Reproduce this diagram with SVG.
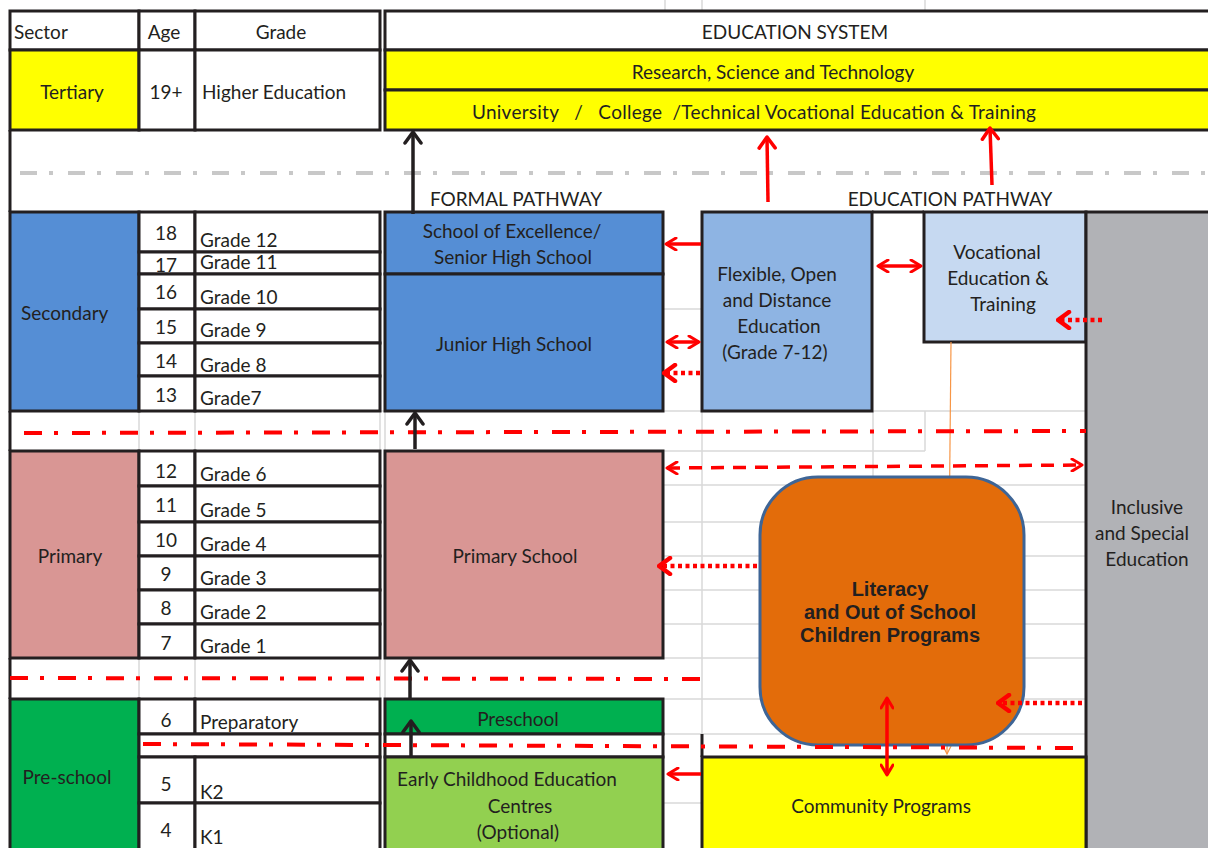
<svg xmlns="http://www.w3.org/2000/svg" width="1208" height="848" viewBox="0 0 1208 848">
<defs>
<style>
.t{font-family:Lato,"Open Sans","Noto Sans",sans-serif;font-size:19px;fill:#231f20}
.m{text-anchor:middle}
.bo{font-family:"Liberation Sans",Arial,sans-serif;font-weight:bold;font-size:20px;fill:#231f20;text-anchor:middle}
.c{stroke:#231f20;stroke-width:3}
.w{fill:#ffffff}
.g{stroke:#d9d9d9;stroke-width:1.5;fill:none}
.rdd{stroke:#ff0000;stroke-width:4;fill:none;stroke-dasharray:18 12 4 14}
.rs{stroke:#ff0000;stroke-width:3.5;fill:none}
.rdash{stroke:#ff0000;stroke-width:3.5;fill:none;stroke-dasharray:13 9}
.rdot{stroke:#ff0000;stroke-width:4.5;fill:none;stroke-dasharray:4 3.5}
.k{stroke:#231f20;stroke-width:3.5;fill:none}
</style>
<marker id="raS" viewBox="0 0 14 14" refX="12" refY="7" markerWidth="14" markerHeight="14" markerUnits="userSpaceOnUse" orient="auto-start-reverse"><path d="M2,1 L12,7 L2,13" fill="none" stroke="#ff0000" stroke-width="3" stroke-linecap="round" stroke-linejoin="round"/></marker>
<marker id="raL" viewBox="0 0 16 20" refX="14" refY="10" markerWidth="16" markerHeight="20" markerUnits="userSpaceOnUse" orient="auto-start-reverse"><path d="M3,2 L14,10 L3,18" fill="none" stroke="#ff0000" stroke-width="3.5" stroke-linecap="round" stroke-linejoin="round"/></marker>
<marker id="raD" viewBox="0 0 16 20" refX="14" refY="10" markerWidth="16" markerHeight="20" markerUnits="userSpaceOnUse" orient="auto-start-reverse"><path d="M3,2 L14,10 L3,18" fill="none" stroke="#ff0000" stroke-width="4.5" stroke-linecap="round" stroke-linejoin="round"/></marker>
<marker id="ka" viewBox="0 0 16 20" refX="14" refY="10" markerWidth="16" markerHeight="20" markerUnits="userSpaceOnUse" orient="auto"><path d="M3,2 L14,10 L3,18" fill="none" stroke="#231f20" stroke-width="3.5" stroke-linecap="round" stroke-linejoin="round"/></marker>
<marker id="oa" viewBox="0 0 10 10" refX="9" refY="5" markerWidth="10" markerHeight="10" markerUnits="userSpaceOnUse" orient="auto"><path d="M1,1 L9,5 L1,9" fill="none" stroke="#f79646" stroke-width="1.2"/></marker>
</defs>
<rect width="1208" height="848" fill="#ffffff"/>

<g id="grid">
<line class="g" x1="665" y1="0" x2="665" y2="11"/>
<line class="g" x1="702" y1="0" x2="702" y2="11"/>
<line class="g" x1="925" y1="0" x2="925" y2="11"/>
<line class="g" x1="139" y1="411" x2="139" y2="451"/>
<line class="g" x1="195" y1="411" x2="195" y2="451"/>
<line class="g" x1="380" y1="411" x2="380" y2="451"/>
<line class="g" x1="385" y1="411" x2="385" y2="451"/>
<line class="g" x1="139" y1="658" x2="139" y2="699"/>
<line class="g" x1="195" y1="658" x2="195" y2="699"/>
<line class="g" x1="380" y1="658" x2="380" y2="699"/>
<line class="g" x1="385" y1="658" x2="385" y2="699"/>
<line class="g" x1="663" y1="309" x2="702" y2="309"/>
<line class="g" x1="663" y1="411" x2="1086" y2="411"/>
<line class="g" x1="10" y1="411" x2="385" y2="411"/>
<line class="g" x1="663" y1="451" x2="925" y2="451"/>
<line class="g" x1="663" y1="485" x2="1086" y2="485"/>
<line class="g" x1="663" y1="522" x2="1086" y2="522"/>
<line class="g" x1="663" y1="556" x2="1086" y2="556"/>
<line class="g" x1="663" y1="590" x2="1086" y2="590"/>
<line class="g" x1="663" y1="624" x2="1086" y2="624"/>
<line class="g" x1="663" y1="658" x2="1086" y2="658"/>
<line class="g" x1="663" y1="699" x2="1086" y2="699"/>
<line class="g" x1="663" y1="734" x2="1086" y2="734"/>
<line class="g" x1="663" y1="803" x2="702" y2="803"/>
<line class="g" x1="702" y1="411" x2="702" y2="757"/>
<line class="g" x1="873" y1="411" x2="873" y2="490"/>
<line class="g" x1="925" y1="411" x2="925" y2="451"/>
</g>

<g id="header">
<rect class="c w" x="10" y="11" width="129" height="39"/>
<rect class="c w" x="139" y="11" width="56" height="39"/>
<rect class="c w" x="195" y="11" width="185" height="39"/>
<rect class="c w" x="385" y="11" width="830" height="39"/>
<text class="t" x="14" y="39">Sector</text>
<text class="t m" x="164" y="39">Age</text>
<text class="t m" x="281" y="39">Grade</text>
<text class="t m" x="795" y="39">EDUCATION SYSTEM</text>
</g>

<g id="tertiary">
<rect class="c" x="10" y="50" width="129" height="80" fill="#ffff00"/>
<rect class="c w" x="139" y="50" width="56" height="80"/>
<rect class="c w" x="195" y="50" width="185" height="80"/>
<text class="t m" x="72" y="99">Tertiary</text>
<text class="t m" x="166" y="99">19+</text>
<text class="t" x="202" y="99">Higher Education</text>
</g>
<g id="research">
<rect class="c" x="385" y="50" width="830" height="40" fill="#ffff00"/>
<text class="t m" x="773" y="79">Research, Science and Technology</text>
</g>
<g id="university">
<rect class="c" x="385" y="90" width="830" height="40" fill="#ffff00"/>
<text class="t" x="472" y="119" textLength="564" style="white-space:pre">University   /   College  /Technical Vocational Education &amp; Training</text>
</g>

<g id="separators">
<line class="c" x1="10" y1="130" x2="10" y2="212"/>
<line class="c" x1="10" y1="411" x2="10" y2="451"/>
<line class="c" x1="10" y1="658" x2="10" y2="699"/>
<line class="c" x1="872" y1="212" x2="924" y2="212"/>
<line x1="20" y1="173" x2="1208" y2="173" stroke="#c8c8c8" stroke-width="4" stroke-dasharray="17 12 4 15"/>
<text class="t m" x="516" y="206">FORMAL PATHWAY</text>
<text class="t m" x="950" y="206">EDUCATION PATHWAY</text>
</g>

<g id="secondary">
<rect class="c" x="10" y="212" width="129" height="199" fill="#558ed5"/>
<text class="t" x="21" y="320">Secondary</text>
<rect class="c w" x="139" y="212" width="56" height="40"/>
<rect class="c w" x="139" y="252" width="56" height="22"/>
<rect class="c w" x="139" y="274" width="56" height="35"/>
<rect class="c w" x="139" y="309" width="56" height="34"/>
<rect class="c w" x="139" y="343" width="56" height="33"/>
<rect class="c w" x="139" y="376" width="56" height="35"/>
<rect class="c w" x="195" y="212" width="185" height="40"/>
<rect class="c w" x="195" y="252" width="185" height="22"/>
<rect class="c w" x="195" y="274" width="185" height="35"/>
<rect class="c w" x="195" y="309" width="185" height="34"/>
<rect class="c w" x="195" y="343" width="185" height="33"/>
<rect class="c w" x="195" y="376" width="185" height="35"/>
<text class="t m" x="166" y="240">18</text>
<text class="t m" x="166" y="272">17</text>
<text class="t m" x="166" y="299">16</text>
<text class="t m" x="166" y="334">15</text>
<text class="t m" x="166" y="368">14</text>
<text class="t m" x="166" y="402">13</text>
<text class="t" x="200" y="247">Grade 12</text>
<text class="t" x="200" y="269">Grade 11</text>
<text class="t" x="200" y="304">Grade 10</text>
<text class="t" x="200" y="337">Grade 9</text>
<text class="t" x="200" y="372">Grade 8</text>
<text class="t" x="200" y="405">Grade7</text>
</g>

<g id="senior-high">
<rect class="c" x="385" y="212" width="278" height="62" fill="#558ed5"/>
<text class="t m" x="512" y="238">School of Excellence/</text>
<text class="t m" x="513" y="264">Senior High School</text>
</g>
<g id="junior-high">
<rect class="c" x="385" y="274" width="278" height="137" fill="#558ed5"/>
<text class="t m" x="514" y="351">Junior High School</text>
</g>
<g id="flexible">
<rect class="c" x="702" y="212" width="170" height="199" fill="#8eb4e3"/>
<text class="t m" x="777" y="281">Flexible, Open</text>
<text class="t m" x="777" y="307">and Distance</text>
<text class="t m" x="779" y="333">Education</text>
<text class="t m" x="775" y="359">(Grade 7-12)</text>
</g>
<g id="vocational">
<rect class="c" x="924" y="212" width="162" height="130" fill="#c6d9f1"/>
<text class="t m" x="997" y="259">Vocational</text>
<text class="t m" x="998" y="285">Education &amp;</text>
<text class="t m" x="1003" y="311">Training</text>
</g>
<g id="inclusive">
<rect class="c" x="1086" y="212" width="130" height="650" fill="#b1b2b6"/>
<text class="t m" x="1147" y="514">Inclusive</text>
<text class="t m" x="1142" y="540">and Special</text>
<text class="t m" x="1147" y="566">Education</text>
</g>

<g id="primary">
<rect class="c" x="10" y="451" width="129" height="207" fill="#d99694"/>
<text class="t m" x="70" y="563">Primary</text>
<rect class="c w" x="139" y="451" width="56" height="35"/>
<rect class="c w" x="139" y="486" width="56" height="36"/>
<rect class="c w" x="139" y="522" width="56" height="34"/>
<rect class="c w" x="139" y="556" width="56" height="34"/>
<rect class="c w" x="139" y="590" width="56" height="34"/>
<rect class="c w" x="139" y="624" width="56" height="34"/>
<rect class="c w" x="195" y="451" width="185" height="35"/>
<rect class="c w" x="195" y="486" width="185" height="36"/>
<rect class="c w" x="195" y="522" width="185" height="34"/>
<rect class="c w" x="195" y="556" width="185" height="34"/>
<rect class="c w" x="195" y="590" width="185" height="34"/>
<rect class="c w" x="195" y="624" width="185" height="34"/>
<text class="t m" x="166" y="478">12</text>
<text class="t m" x="166" y="512">11</text>
<text class="t m" x="166" y="547">10</text>
<text class="t m" x="166" y="581">9</text>
<text class="t m" x="166" y="615">8</text>
<text class="t m" x="166" y="650">7</text>
<text class="t" x="200" y="481">Grade 6</text>
<text class="t" x="200" y="517">Grade 5</text>
<text class="t" x="200" y="551">Grade 4</text>
<text class="t" x="200" y="585">Grade 3</text>
<text class="t" x="200" y="619">Grade 2</text>
<text class="t" x="200" y="653">Grade 1</text>
</g>
<g id="primary-school">
<rect class="c" x="385" y="451" width="278" height="207" fill="#d99694"/>
<text class="t m" x="515" y="563">Primary School</text>
</g>

<g id="pre-school">
<rect class="c" x="10" y="699" width="129" height="160" fill="#00b050"/>
<text class="t m" x="67" y="784">Pre-school</text>
<rect class="c w" x="139" y="699" width="56" height="35"/>
<rect class="c w" x="195" y="699" width="185" height="35"/>
<rect class="c w" x="139" y="734" width="241" height="23"/>
<rect class="c w" x="139" y="757" width="56" height="46"/>
<rect class="c w" x="195" y="757" width="185" height="46"/>
<rect class="c w" x="139" y="803" width="56" height="50"/>
<rect class="c w" x="195" y="803" width="185" height="50"/>
<text class="t m" x="166" y="727">6</text>
<text class="t" x="200" y="729">Preparatory</text>
<text class="t m" x="166" y="791">5</text>
<text class="t" x="200" y="799">K2</text>
<text class="t m" x="166" y="837">4</text>
<text class="t" x="200" y="844">K1</text>
</g>
<g id="preschool">
<rect class="c" x="385" y="699" width="278" height="35" fill="#00b050"/>
<text class="t m" x="518" y="726">Preschool</text>
</g>
<rect class="c w" x="385" y="734" width="278" height="23"/>
<g id="ece">
<rect class="c" x="385" y="757" width="278" height="100" fill="#92d050"/>
<text class="t m" x="507" y="786">Early Childhood Education</text>
<text class="t m" x="520" y="813">Centres</text>
<text class="t m" x="518" y="839">(Optional)</text>
</g>
<g id="community">
<line class="c" x1="702" y1="734" x2="702" y2="757"/>
<rect class="c" x="702" y="757" width="384" height="100" fill="#ffff00"/>
<text class="t m" x="881" y="813">Community Programs</text>
</g>

<line x1="951" y1="342" x2="947" y2="754" stroke="#f79646" stroke-width="1.2" marker-end="url(#oa)"/>

<g id="literacy">
<rect x="760" y="477" width="264" height="268" rx="58" ry="58" fill="#e36c0a" stroke="#3e6596" stroke-width="3"/>
<text class="bo" x="890" y="596">Literacy</text>
<text class="bo" x="890" y="619">and Out of School</text>
<text class="bo" x="890" y="642">Children Programs</text>
</g>

<g id="connectors">
<line class="rdd" x1="24" y1="433" x2="1086" y2="431"/>
<line class="rdd" x1="10" y1="678" x2="700" y2="679"/>
<line class="rdd" x1="143" y1="744" x2="1075" y2="748"/>

<line class="k" x1="413" y1="214" x2="413" y2="132" marker-end="url(#ka)"/>
<line class="k" x1="415" y1="449" x2="415" y2="413" marker-end="url(#ka)"/>
<line class="k" x1="410" y1="698" x2="410" y2="660" marker-end="url(#ka)"/>
<line class="k" x1="411" y1="758" x2="411" y2="721" marker-end="url(#ka)"/>

<line class="rs" x1="768" y1="202" x2="767" y2="137" marker-end="url(#raL)"/>
<line class="rs" x1="992" y1="185" x2="990" y2="128" marker-end="url(#raL)"/>
<line class="rs" x1="701" y1="244" x2="666" y2="244" marker-end="url(#raS)"/>
<line class="rs" x1="667" y1="342" x2="699" y2="342" marker-start="url(#raS)" marker-end="url(#raS)"/>
<line class="rs" x1="878" y1="266" x2="921" y2="266" marker-start="url(#raS)" marker-end="url(#raS)"/>
<line class="rs" x1="887" y1="698" x2="887" y2="775" marker-start="url(#raS)" marker-end="url(#raS)"/>
<line class="rs" x1="701" y1="774" x2="668" y2="774" marker-end="url(#raS)"/>
<line class="rdash" x1="667" y1="468" x2="1082" y2="465" marker-start="url(#raS)" marker-end="url(#raS)"/>
<line class="rdot" x1="700" y1="373" x2="664" y2="373" marker-end="url(#raD)"/>
<line class="rdot" x1="1102" y1="320" x2="1058" y2="320" marker-end="url(#raD)"/>
<line class="rdot" x1="757" y1="566" x2="659" y2="566" marker-end="url(#raD)"/>
<line class="rdot" x1="1082" y1="703" x2="998" y2="703" marker-end="url(#raD)"/>
</g>
</svg>
